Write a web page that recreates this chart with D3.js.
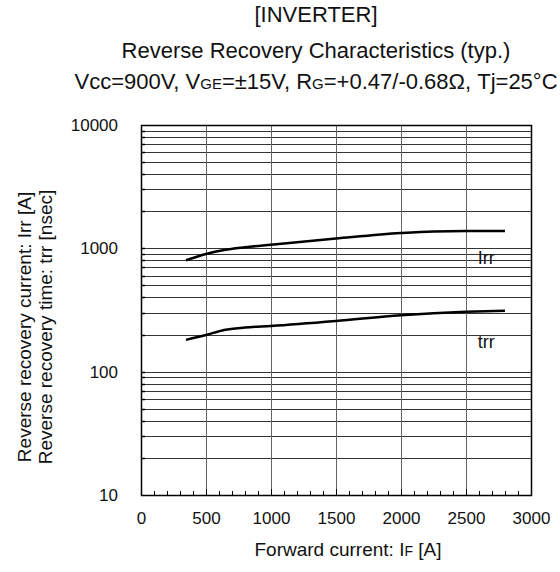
<!DOCTYPE html>
<html><head><meta charset="utf-8">
<script src="https://cdn.jsdelivr.net/npm/d3@7"></script>
<style>body{margin:0;background:#fff}svg{display:block}text{font-family:"Liberation Sans",Arial,sans-serif;fill:#111}</style>
</head><body><svg id="c" width="560" height="572"></svg>
<script>
const forwardCurrent = [346, 500, 640, 800, 1000, 1500, 2000, 2250, 2500, 2800];
const irrValues      = [800, 900, 970, 1020, 1070, 1200, 1330, 1370, 1380, 1380];
const trrValues      = [181, 198, 218, 228, 235, 258, 287, 298, 306, 312];
const xTicks = [0, 500, 1000, 1500, 2000, 2500, 3000];
const yTicks = [10, 100, 1000, 10000];
const seriesLabels = ["Irr", "trr"];

const svg = d3.select("#c");
const m = {l: 141, r: 531, t: 125, b: 495};
const x = d3.scaleLinear().domain([0, 3000]).range([m.l, m.r]);
const y = d3.scaleLog().domain([10, 10000]).range([m.b, m.t]);

// grid
const minorY = [];
[10, 100, 1000].forEach(d => { for (let k = 1; k <= 9; k++) minorY.push(d * k); });
const g = svg.append("g");
g.selectAll("line.h").data(minorY.filter(v => v > 10)).enter().append("line")
  .attr("x1", m.l).attr("x2", m.r).attr("y1", d => Math.round(y(d)) + 0.5).attr("y2", d => Math.round(y(d)) + 0.5)
  .attr("stroke", "#333").attr("stroke-width", 1);
g.selectAll("line.v").data(xTicks.slice(1, -1)).enter().append("line")
  .attr("y1", m.t).attr("y2", m.b).attr("x1", d => Math.round(x(d)) + 0.5).attr("x2", d => Math.round(x(d)) + 0.5)
  .attr("stroke", "#666").attr("stroke-width", 1);
// left minor ticks
g.selectAll("line.lt").data(minorY.filter(v => v > 10)).enter().append("line")
  .attr("x1", m.l).attr("x2", m.l + 4).attr("y1", d => Math.round(y(d)) + 0.5).attr("y2", d => Math.round(y(d)) + 0.5)
  .attr("stroke", "#000").attr("stroke-width", 1.5);
// bottom minor ticks
g.selectAll("line.bt").data(d3.range(100, 3000, 100)).enter().append("line")
  .attr("x1", d => Math.round(x(d)) + 0.5).attr("x2", d => Math.round(x(d)) + 0.5)
  .attr("y1", m.b).attr("y2", d => m.b - (d % 500 === 0 ? 6 : 4))
  .attr("stroke", "#000").attr("stroke-width", 1);
// frame
svg.append("rect").attr("x", m.l + 0.5).attr("y", m.t + 0.5).attr("width", m.r - m.l).attr("height", m.b - m.t)
  .attr("fill", "none").attr("stroke", "#000").attr("stroke-width", 1.5);

// axes labels
const xa = svg.append("g").attr("transform", `translate(0,${m.b})`)
  .call(d3.axisBottom(x).tickValues(xTicks).tickSize(0).tickPadding(17).tickFormat(d3.format("d")));
xa.select(".domain").remove();
xa.selectAll("text").attr("font-size", 17).attr("font-family", "Liberation Sans, Arial, sans-serif").attr("fill", "#111");
const ya = svg.append("g").attr("transform", `translate(${m.l},0)`)
  .call(d3.axisLeft(y).tickValues(yTicks).tickSize(0).tickPadding(23).tickFormat(d3.format("d")));
ya.select(".domain").remove();
ya.selectAll("text").attr("font-size", 17).attr("font-family", "Liberation Sans, Arial, sans-serif").attr("fill", "#111");

// curves
const line = d3.line().x(d => x(d[0])).y(d => y(d[1])).curve(d3.curveMonotoneX);
[irrValues, trrValues].forEach(vals => {
  svg.append("path").datum(forwardCurrent.map((f, i) => [f, vals[i]]))
    .attr("d", line).attr("fill", "none").attr("stroke", "#000").attr("stroke-width", 2.5);
});
svg.append("text").attr("x", x(2590)).attr("y", y(740)).attr("font-size", 18).text(seriesLabels[0]);
svg.append("text").attr("x", x(2590)).attr("y", y(155)).attr("font-size", 18).text(seriesLabels[1]);

// titles
const cx = 316;
svg.append("text").attr("x", cx).attr("y", 22).attr("text-anchor", "middle").attr("font-size", 22).text("[INVERTER]");
svg.append("text").attr("x", cx).attr("y", 58).attr("text-anchor", "middle").attr("font-size", 22).text("Reverse Recovery Characteristics (typ.)");
const t3 = svg.append("text").attr("x", cx).attr("y", 89).attr("text-anchor", "middle").attr("font-size", 22);
t3.append("tspan").text("Vcc=900V, V");
t3.append("tspan").attr("font-size", 15).text("GE");
t3.append("tspan").text("=±15V, R");
t3.append("tspan").attr("font-size", 15).text("G");
t3.append("tspan").text("=+0.47/-0.68Ω, Tj=25°C");

const xl = svg.append("text").attr("x", 348).attr("y", 556).attr("text-anchor", "middle").attr("font-size", 19);
xl.append("tspan").text("Forward current: I");
xl.append("tspan").attr("font-size", 14).text("F");
xl.append("tspan").text(" [A]");

const yl = svg.append("g").attr("transform", "translate(31,327) rotate(-90)");
yl.append("text").attr("text-anchor", "middle").attr("font-size", 19).text("Reverse recovery current: Irr [A]");
yl.append("text").attr("y", 21).attr("text-anchor", "middle").attr("font-size", 19).text("Reverse recovery time: trr [nsec]");
</script></body></html>
